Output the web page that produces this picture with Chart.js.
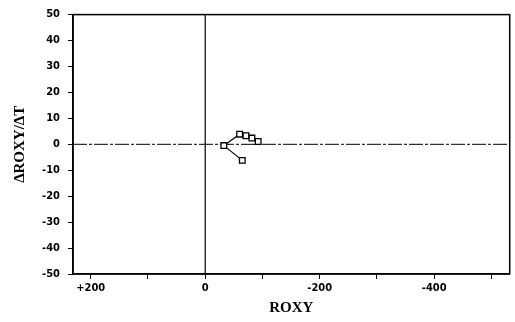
<!DOCTYPE html>
<html>
<head>
<meta charset="utf-8">
<script src="https://cdn.jsdelivr.net/npm/chart.js@4/dist/chart.umd.min.js"></script>
<style>html,body{margin:0;padding:0;background:#fff;}canvas{display:block;}</style>
</head>
<body>
<canvas id="c" width="515" height="322"></canvas>
<script>
// Data (x axis reversed)
const roxy = [-64.8, -32.5, -60.2, -71.2, -81.6, -92.5];
const dRoxyDt = [-6.2, -0.5, 3.9, 3.3, 2.4, 1.1];
const xTickValues = [200, 100, 0, -100, -200, -300, -400, -500];
const xTickLabels = {"200": "+200", "0": "0", "-200": "-200", "-400": "-400"};
const yTickValues = [50, 40, 30, 20, 10, 0, -10, -20, -30, -40, -50];
const xTitle = "ROXY";
const yTitle = "ΔROXY/ΔT";

const points = roxy.map((x, i) => ({x: x, y: dRoxyDt[i]}));
const tickFont = {family: "'Liberation Sans Narrow', 'DejaVu Sans Condensed', sans-serif", size: 11, weight: 'bold'};
const titleFont = {family: "'Liberation Serif', serif", size: 15, weight: 'bold'};

const framePlugin = {
  id: 'frame',
  beforeDatasetsDraw(chart) {
    const {ctx, chartArea: a, scales} = chart;
    ctx.save();
    ctx.strokeStyle = '#000';
    const x0 = scales.x.getPixelForValue(0);
    const y0 = scales.y.getPixelForValue(0);
    ctx.lineWidth = 1.2;
    ctx.beginPath();
    ctx.moveTo(x0, a.top); ctx.lineTo(x0, a.bottom);
    ctx.stroke();
    ctx.lineWidth = 1;
    ctx.setLineDash([14, 2, 3, 2]);
    ctx.beginPath();
    ctx.moveTo(a.left, y0); ctx.lineTo(a.right, y0);
    ctx.stroke();
    ctx.setLineDash([]);
    ctx.lineWidth = 1.5;
    ctx.strokeRect(a.left, a.top, a.right - a.left, a.bottom - a.top);
    ctx.restore();
  }
};

new Chart(document.getElementById('c'), {
  type: 'scatter',
  data: {
    datasets: [{
      data: points,
      showLine: true,
      borderColor: '#000',
      borderWidth: 1.2,
      pointStyle: 'rect',
      pointRadius: 4,
      pointBackgroundColor: '#fff',
      pointBorderColor: '#000',
      pointBorderWidth: 1.3
    }]
  },
  options: {
    responsive: false,
    animation: false,
    devicePixelRatio: 1,
    layout: {padding: {top: 12, right: 2.5, left: 0, bottom: 0}},
    plugins: {legend: {display: false}, tooltip: {enabled: false}},
    scales: {
      x: {
        type: 'linear',
        min: -532,
        max: 231,
        reverse: true,
        afterBuildTicks(scale) { scale.ticks = xTickValues.map(v => ({value: v})); },
        afterFit(scale) { scale.height = 48; },
        grid: {drawOnChartArea: false, tickLength: 5, tickColor: '#000', tickWidth: 1},
        border: {display: true, color: '#000', width: 1.5},
        ticks: {
          autoSkip: false, maxRotation: 0, padding: 3, color: '#000', font: tickFont,
          callback: (v) => xTickLabels[String(v)] || ''
        },
        title: {display: true, text: xTitle, color: '#000', font: titleFont, padding: {top: 4, bottom: 5}}
      },
      y: {
        type: 'linear',
        min: -50,
        max: 50,
        afterBuildTicks(scale) { scale.ticks = yTickValues.map(v => ({value: v})); },
        afterFit(scale) { scale.width = 73; },
        grid: {drawOnChartArea: false, tickLength: 5, tickColor: '#000', tickWidth: 1},
        border: {display: true, color: '#000', width: 1.5},
        ticks: {padding: 8, color: '#000', font: tickFont, callback: (v) => String(v)},
        title: {display: true, text: yTitle, color: '#000', font: titleFont, padding: {top: 11, bottom: 0}}
      }
    }
  },
  plugins: [framePlugin]
});
</script>
</body>
</html>
